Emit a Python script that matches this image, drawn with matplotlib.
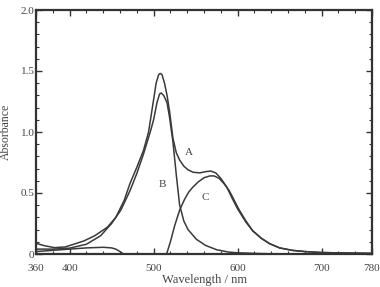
import matplotlib
matplotlib.use("Agg")
import matplotlib.pyplot as plt
from matplotlib.ticker import MultipleLocator

plt.rcParams['font.family'] = ['Liberation Serif', 'DejaVu Serif']

# Curve A (total spectrum)
wl_A = [360, 370, 382, 395, 417, 430, 445, 455, 465, 472, 480, 488, 494, 499, 503, 506, 508,
        510, 513, 516, 519, 523, 527, 531, 536, 541, 547, 555, 562, 568, 574, 580, 587, 594,
        600, 610, 618, 628, 638, 650, 665, 680, 700, 730, 760]
abs_A = [0.088, 0.068, 0.052, 0.058, 0.107, 0.15, 0.22, 0.30, 0.44, 0.58, 0.71, 0.85, 1.00,
         1.22, 1.40, 1.47, 1.48, 1.47, 1.40, 1.30, 1.17, 0.95, 0.83, 0.77, 0.72, 0.69, 0.67,
         0.665, 0.675, 0.68, 0.665, 0.62, 0.55, 0.45, 0.37, 0.26, 0.19, 0.13, 0.085, 0.05,
         0.03, 0.02, 0.012, 0.008, 0.005]

# Curve B (first component)
wl_B = [360, 380, 400, 420, 437, 450, 461, 472, 480, 488, 496, 500, 504, 507, 509, 512, 516,
        519, 523, 527, 531, 536, 541, 551, 562, 575, 590, 600, 620, 650]
abs_B = [0.040, 0.040, 0.048, 0.08, 0.15, 0.25, 0.36, 0.52, 0.66, 0.82, 1.00, 1.10, 1.24,
         1.31, 1.32, 1.30, 1.24, 1.12, 0.92, 0.65, 0.40, 0.27, 0.20, 0.12, 0.07, 0.035,
         0.015, 0.01, 0.005, 0.0]

# Curve C (second component)
wl_C = [515.5, 520, 525, 531, 537, 542, 547, 553, 560, 567, 572, 578, 584, 590, 596, 602,
        610, 618, 628, 638, 650, 665, 680, 700, 730, 760]
abs_C = [0.0, 0.10, 0.23, 0.36, 0.45, 0.51, 0.55, 0.59, 0.625, 0.64, 0.64, 0.62, 0.575, 0.52,
         0.44, 0.36, 0.27, 0.19, 0.13, 0.085, 0.05, 0.03, 0.02, 0.012, 0.008, 0.005]

# Small unlabeled component at short wavelengths
wl_D = [360, 380, 400, 420, 440, 450, 455, 460, 464]
abs_D = [0.02, 0.03, 0.04, 0.05, 0.055, 0.05, 0.04, 0.02, 0.0]

xtick_pos = [360, 400, 500, 600, 700, 760]
xtick_labels = ['360', '400', '500', '600', '700', '780']
ytick_pos = [0, 0.5, 1.0, 1.5, 2.0]
ytick_labels = ['0', '0.5', '1.0', '1.5', '2.0']

fig = plt.figure(figsize=(3.8, 2.87), dpi=100)
ax = fig.add_axes([36/380, 1-254/287, (372-36)/380, (254-10)/287])

lc = '#3a3a3a'
for w, a in [(wl_A, abs_A), (wl_B, abs_B), (wl_C, abs_C), (wl_D, abs_D)]:
    ax.plot(w, a, color=lc, lw=1.1)

ax.set_xlim(360, 760)
ax.set_ylim(0, 2.0)
ax.set_xticks(xtick_pos)
ax.set_xticklabels(xtick_labels)
ax.set_yticks(ytick_pos)
ax.set_yticklabels(ytick_labels)
ax.xaxis.set_minor_locator(MultipleLocator(20))
ax.yaxis.set_minor_locator(MultipleLocator(0.1))
ax.tick_params(which='both', direction='in', top=True, right=True, colors='#333333',
               labelcolor='#444444', labelsize=8)
ax.tick_params(which='major', length=4, width=1.0)
ax.tick_params(which='minor', length=2, width=0.8)
ax.tick_params(axis='x', which='major', pad=7)
ax.tick_params(axis='y', which='major', pad=1)
for s in ax.spines.values():
    s.set_linewidth(1.6)
    s.set_color('#333333')

ax.text(542, 0.836, 'A', fontsize=8, color='#444444', ha='center', va='center')
ax.text(511, 0.566, 'B', fontsize=8, color='#444444', ha='center', va='center')
ax.text(561, 0.467, 'C', fontsize=8, color='#444444', ha='center', va='center')

ax.set_xlabel('Wavelength / nm', fontsize=9, color='#444444', labelpad=1)
ax.set_ylabel('Absorbance', fontsize=8.5, color='#444444')
ax.yaxis.set_label_coords(-24/336, 0.5)

fig.savefig('out.png', dpi=100)
